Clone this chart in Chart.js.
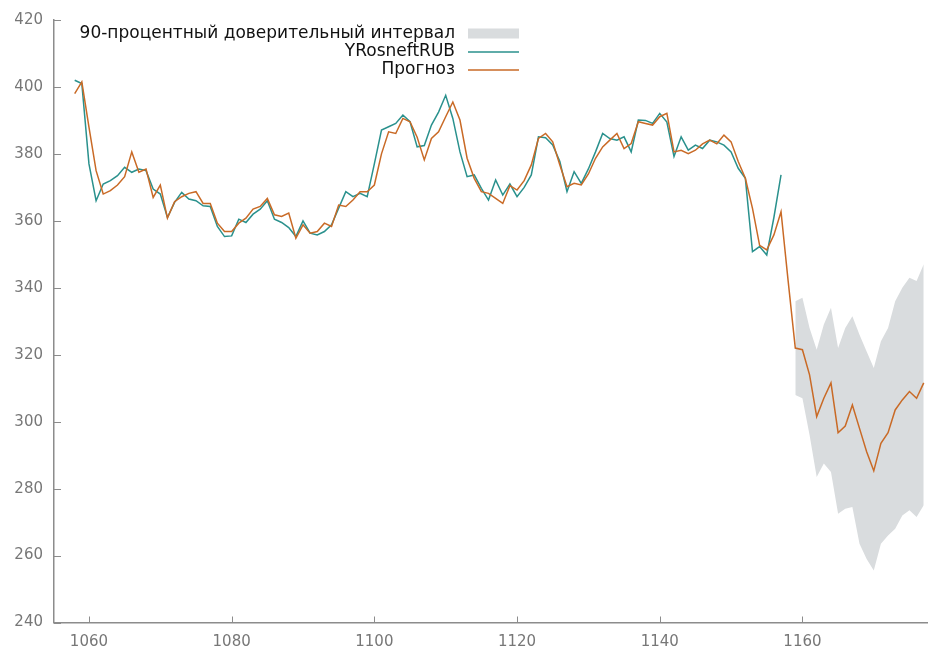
<!DOCTYPE html>
<html>
<head>
<meta charset="utf-8">
<script src="https://cdn.jsdelivr.net/npm/chart.js@4"></script>
<style>
  html, body { margin: 0; padding: 0; background: #fff; }
  canvas { display: block; }
</style>
</head>
<body>
<canvas id="chart" width="928" height="650"></canvas>
<script>
// observation numbers
const firstObs = 1058;
const bandFirstObs = 1159;
const xTicks = [1060, 1080, 1100, 1120, 1140, 1160];
const yTicks = [240, 260, 280, 300, 320, 340, 360, 380, 400, 420];

// YRosneftRUB, 1058..1157
const actual = [
  402, 401, 377, 366, 371, 372, 373.5, 376, 374.5, 375.5,
  375, 369.5, 368, 361, 365.5, 368.5, 366.5, 366, 364.5, 364.3,
  358.3, 355.3, 355.5, 360.5, 359.5, 362, 363.5, 366, 360.5, 359.5,
  358, 355.3, 360, 356.3, 355.8, 356.8, 358.8, 363.8, 368.7, 367.2,
  368.2, 367.2, 377, 387.1, 388.1, 389.1, 391.6, 389.6, 382.1, 382.5,
  388.6, 392.5, 397.5, 390.6, 380.6, 373.2, 373.7, 369.7, 366.2, 372.2,
  367.7, 371, 367.2, 370, 373.7, 385.1, 384.8, 382.7, 377.7, 368.7,
  374.7, 371.2, 375.5, 380.6, 386.1, 384.6, 384.1, 385.1, 380.6, 390.1,
  390, 389.1, 392.1, 389.5, 379.2, 385.1, 381.1, 382.6, 381.6, 384.1,
  383.6, 382.6, 380.6, 375.7, 372.7, 350.8, 352.3, 349.8, 361, 373.7
];

// Прогноз, 1058..1177
const forecast = [
  398, 401.5, 388, 375, 368, 369, 370.7, 373.2, 380.6, 374.5,
  375.5, 367, 370.7, 360.8, 365.7, 367.2, 368.2, 368.7, 365.2, 365.2,
  359.3, 356.8, 356.8, 359.3, 360.8, 363.5, 364.3, 366.7, 361.8, 361.3,
  362.3, 354.8, 358.8, 356.3, 356.8, 359.3, 358.3, 364.7, 364.3, 366.2,
  368.7, 368.7, 370.7, 380, 386.6, 386.1, 390.6, 389.6, 385, 378.2,
  384.6, 386.6, 391.1, 395.5, 390.1, 378.7, 372.7, 368.7, 368.2, 366.7,
  365.2, 370.5, 369.2, 372, 376.7, 384.6, 386.1, 383.6, 376.7, 370.2,
  371.2, 370.7, 374, 378.7, 382.1, 384.1, 386.1, 381.6, 383.1, 389.6,
  389.1, 388.6, 391.1, 392.1, 380.6, 381.1, 380.1, 381.1, 383, 384.1,
  383, 385.6, 383.6, 377.7, 372.7, 363.7, 352.7, 351.3, 355.8, 362.7,
  342, 322, 321.5, 314, 301.5, 307, 311.6, 296.7, 298.7, 305,
  298, 291, 285.3, 293.5, 296.7, 303.5, 306.5, 309, 307, 311.6
];

// 90% interval, 1159..1177
const bandUpper = [336, 337, 328, 321.5, 329, 334, 322, 328, 331.5, 326, 321, 316, 324, 328, 336, 340, 343, 342, 347];
const bandLower = [308, 307, 296, 283.5, 287.5, 285, 272.5, 274, 274.5, 263.5, 259, 255.5, 263.5, 266, 268, 272, 273.5, 271.5, 275];

const legendLabels = ['90-процентный доверительный интервал', 'YRosneftRUB', 'Прогноз'];

const TEAL = '#2a918d';
const ORANGE = '#c96a26';
const BAND = '#d9dcde';
const AXIS = '#8c8c8c';

const toPoints = (arr, start) => arr.map((v, i) => ({ x: start + i, y: v }));

// ticks drawn inward, like the original
const innerTicks = {
  id: 'innerTicks',
  afterDraw(chart) {
    const { ctx, chartArea, scales } = chart;
    ctx.save();
    ctx.strokeStyle = AXIS;
    ctx.lineWidth = 1;
    ctx.beginPath();
    xTicks.forEach(v => {
      const px = Math.round(scales.x.getPixelForValue(v)) + 0.5;
      ctx.moveTo(px, chartArea.bottom);
      ctx.lineTo(px, chartArea.bottom - 6);
    });
    yTicks.forEach(v => {
      const py = Math.round(scales.y.getPixelForValue(v)) + 0.5;
      ctx.moveTo(chartArea.left, py);
      ctx.lineTo(chartArea.left + 7, py);
    });
    ctx.stroke();
    ctx.restore();
  }
};

// legend at top right of the text column
const keyBox = {
  id: 'keyBox',
  afterDraw(chart) {
    const ctx = chart.ctx;
    const textRight = 455, keyLeft = 468, keyRight = 519;
    const rows = [33.5, 52, 70];
    ctx.save();
    ctx.font = '17px "DejaVu Sans"';
    ctx.fillStyle = '#111';
    ctx.textAlign = 'right';
    ctx.textBaseline = 'middle';
    legendLabels.forEach((t, i) => ctx.fillText(t, textRight, rows[i]));
    ctx.fillStyle = BAND;
    ctx.fillRect(keyLeft, rows[0] - 5, keyRight - keyLeft, 10);
    ctx.lineWidth = 1.5;
    [TEAL, ORANGE].forEach((c, i) => {
      ctx.strokeStyle = c;
      ctx.beginPath();
      ctx.moveTo(keyLeft, rows[i + 1]);
      ctx.lineTo(keyRight, rows[i + 1]);
      ctx.stroke();
    });
    ctx.restore();
  }
};

new Chart(document.getElementById('chart'), {
  type: 'line',
  data: {
    datasets: [
      {
        label: legendLabels[2],
        data: toPoints(forecast, firstObs),
        borderColor: ORANGE,
        borderWidth: 1.5,
        pointRadius: 0,
        fill: false,
        order: 0
      },
      {
        label: legendLabels[1],
        data: toPoints(actual, firstObs),
        borderColor: TEAL,
        borderWidth: 1.5,
        pointRadius: 0,
        fill: false,
        order: 1
      },
      {
        label: 'upper',
        data: toPoints(bandUpper, bandFirstObs),
        borderWidth: 0,
        borderColor: 'rgba(0,0,0,0)',
        backgroundColor: BAND,
        pointRadius: 0,
        fill: '+1',
        order: 2
      },
      {
        label: 'lower',
        data: toPoints(bandLower, bandFirstObs),
        borderWidth: 0,
        borderColor: 'rgba(0,0,0,0)',
        pointRadius: 0,
        fill: false,
        order: 3
      }
    ]
  },
  options: {
    responsive: false,
    animation: false,
    devicePixelRatio: 1,
    layout: { padding: { top: 18.5, right: 0, left: 0, bottom: 0 } },
    plugins: {
      legend: { display: false },
      tooltip: { enabled: false }
    },
    scales: {
      x: {
        type: 'linear',
        min: 1055.1,
        max: 1177.6,
        afterBuildTicks: s => { s.ticks = xTicks.map(v => ({ value: v })); },
        afterFit: s => { s.height = 27.5; },
        grid: { display: false, drawTicks: false },
        border: { display: true, color: AXIS, width: 1.5 },
        ticks: {
          color: '#777',
          padding: 11,
          maxRotation: 0,
          callback: v => String(v),
          font: { family: 'DejaVu Sans', size: 15 }
        }
      },
      y: {
        min: 240,
        max: 420,
        afterBuildTicks: s => { s.ticks = yTicks.map(v => ({ value: v })); },
        afterFit: s => { s.width = 54; },
        grid: { display: false, drawTicks: false },
        border: { display: true, color: AXIS, width: 1.5 },
        ticks: {
          color: '#777',
          padding: 11,
          callback: v => String(v),
          font: { family: 'DejaVu Sans', size: 15 }
        }
      }
    }
  },
  plugins: [innerTicks, keyBox]
});
</script>
</body>
</html>
